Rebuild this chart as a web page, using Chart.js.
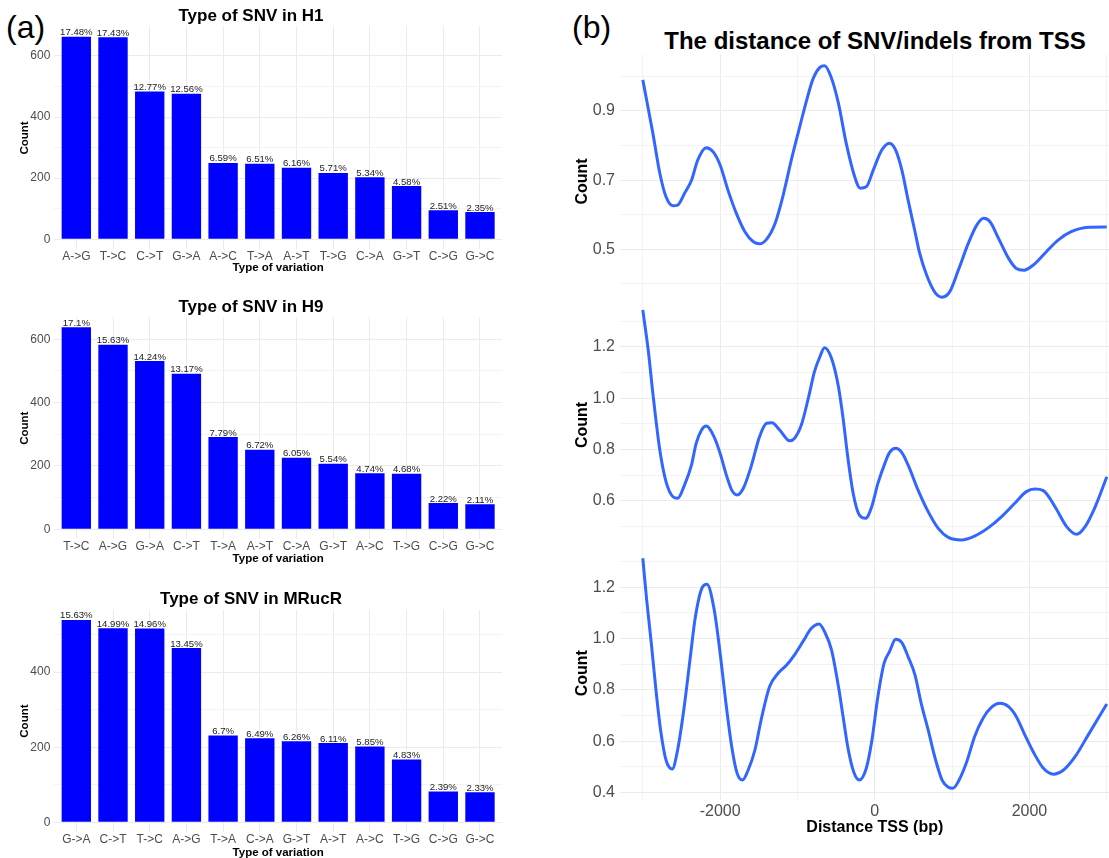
<!DOCTYPE html>
<html>
<head>
<meta charset="utf-8">
<script src="https://cdn.jsdelivr.net/npm/chart.js@4.4.1/dist/chart.umd.min.js"></script>
<style>
  html, body { margin: 0; padding: 0; background: #fff; overflow: hidden; }
  body { width: 1109px; height: 858px; position: relative; font-family: 'Liberation Sans', Arial, sans-serif; }
  canvas { position: absolute; }
  .tag { position: absolute; font-size: 32px; line-height: 1; color: #000; }
  #titleB { position: absolute; left: 620px; width: 510px; top: 29px; text-align: center;
            font-weight: bold; font-size: 24px; line-height: 1; white-space: nowrap; color: #000; }
</style>
</head>
<body>
<div class="tag" style="left:6px; top:11px">(a)</div>
<div class="tag" style="left:572px; top:11px">(b)</div>
<div id="titleB">The distance of SNV/indels from TSS</div>
<canvas id="snvH1"></canvas>
<canvas id="snvH9"></canvas>
<canvas id="snvMRucR"></canvas>
<canvas id="tss1"></canvas>
<canvas id="tss2"></canvas>
<canvas id="tss3"></canvas>
<script>
// Panel (a): counts of each SNV type, with percentage labels
const catsH1 = ["A->G", "T->C", "C->T", "G->A", "A->C", "T->A", "A->T", "T->G", "C->A", "G->T", "C->G", "G->C"];
const countsH1 = [663, 661, 484, 476, 250, 247, 234, 217, 203, 174, 95, 89];
const pctH1 = [17.48, 17.43, 12.77, 12.56, 6.59, 6.51, 6.16, 5.71, 5.34, 4.58, 2.51, 2.35];

const catsH9 = ["T->C", "A->G", "G->A", "C->T", "T->A", "A->T", "C->A", "G->T", "A->C", "T->G", "C->G", "G->C"];
const countsH9 = [638, 583, 531, 491, 291, 251, 226, 207, 177, 175, 83, 79];
const pctH9 = [17.1, 15.63, 14.24, 13.17, 7.79, 6.72, 6.05, 5.54, 4.74, 4.68, 2.22, 2.11];

const catsMRucR = ["G->A", "C->T", "T->C", "A->G", "T->A", "C->A", "G->T", "A->T", "A->C", "T->G", "C->G", "G->C"];
const countsMRucR = [539, 517, 516, 464, 231, 224, 216, 211, 202, 167, 82, 80];
const pctMRucR = [15.63, 14.99, 14.96, 13.45, 6.7, 6.49, 6.26, 6.11, 5.85, 4.83, 2.39, 2.33];

// Panel (b): smoothed counts vs distance from TSS (bp)
const tssX1 = [-3000, -2870, -2780, -2700, -2610, -2550, -2460, -2370, -2290, -2180, -2090, -2000, -1900, -1790, -1680,
  -1570, -1490, -1400, -1290, -1190, -1080, -970, -880, -800, -710, -650, -570, -470, -370, -260, -190, -110, -20,
  90, 190, 270, 350, 430, 520, 580, 670, 780, 870, 970, 1080, 1210, 1320, 1410, 1490, 1600, 1730, 1830, 1930,
  2050, 2200, 2370, 2540, 2760, 3000];
const tssY1 = [0.990, 0.836, 0.720, 0.652, 0.626, 0.628, 0.662, 0.700, 0.758, 0.794, 0.782, 0.744, 0.672, 0.604, 0.551,
  0.522, 0.516, 0.529, 0.575, 0.652, 0.758, 0.855, 0.932, 0.992, 1.026, 1.031, 1.001, 0.922, 0.807, 0.710, 0.677, 0.681, 0.729,
  0.787, 0.807, 0.787, 0.729, 0.643, 0.551, 0.489, 0.426, 0.375, 0.362, 0.378, 0.440, 0.518, 0.571, 0.590, 0.580, 0.532, 0.474, 0.445, 0.440,
  0.455, 0.489, 0.527, 0.551, 0.564, 0.565];

const tssX2 = [-3000, -2930, -2870, -2780, -2700, -2610, -2550, -2460, -2370, -2310, -2240, -2180, -2080, -2000, -1920,
  -1850, -1780, -1700, -1600, -1490, -1400, -1330, -1230, -1100, -1040, -950, -860, -780, -710, -650, -560, -470,
  -410, -350, -280, -200, -120, -40, 40, 130, 190, 270, 350, 430, 560, 690, 820, 950, 1120, 1290, 1470, 1640,
  1810, 1960, 2070, 2180, 2330, 2480, 2610, 2720, 2850, 3000];
const tssY2 = [1.343, 1.187, 1.019, 0.798, 0.675, 0.616, 0.610, 0.662, 0.740, 0.824, 0.876, 0.891, 0.850, 0.785, 0.701,
  0.642, 0.623, 0.649, 0.733, 0.850, 0.902, 0.904, 0.876, 0.834, 0.843, 0.895, 0.999, 1.103, 1.161, 1.196, 1.155, 1.044,
  0.921, 0.772, 0.630, 0.545, 0.532, 0.577, 0.668, 0.746, 0.788, 0.805, 0.788, 0.740, 0.642, 0.558, 0.493, 0.458, 0.448, 0.463, 0.496, 0.539,
  0.591, 0.636, 0.646, 0.640, 0.577, 0.500, 0.470, 0.500, 0.577, 0.694];

const tssX3 = [-3000, -2950, -2890, -2830, -2770, -2700, -2620, -2550, -2470, -2390, -2320, -2230, -2170, -2080, -2000,
  -1930, -1850, -1780, -1710, -1640, -1550, -1470, -1360, -1250, -1140, -1040, -930, -820, -720, -650, -560, -470,
  -410, -350, -270, -200, -110, -40, 40, 120, 190, 270, 350, 430, 520, 600, 690, 780, 870, 950, 1010, 1080, 1190,
  1290, 1400, 1510, 1620, 1730, 1830, 1940, 2070, 2180, 2310, 2440, 2590, 2760, 3000];
const tssY3 = [1.313, 1.151, 0.982, 0.800, 0.644, 0.527, 0.492, 0.566, 0.722, 0.917, 1.085, 1.200, 1.212, 1.118, 0.943,
  0.761, 0.579, 0.475, 0.449, 0.486, 0.566, 0.683, 0.813, 0.865, 0.897, 0.936, 0.988, 1.040, 1.057, 1.027, 0.956, 0.813,
  0.696, 0.579, 0.478, 0.449, 0.495, 0.599, 0.774, 0.904, 0.949, 0.997, 0.984, 0.930, 0.858, 0.748, 0.644, 0.534, 0.449, 0.421, 0.417, 0.443, 0.521,
  0.618, 0.690, 0.733, 0.748, 0.735, 0.696, 0.625, 0.547, 0.495, 0.472, 0.488, 0.540, 0.625, 0.745];

const tssTicks = [-3000, -2000, -1000, 0, 1000, 2000, 3000];
const tssTickLabels = [-2000, 0, 2000];
const countLabels1 = [0.5, 0.7, 0.9];
const countLabels2 = [0.6, 0.8, 1.0, 1.2];
const countLabels3 = [0.4, 0.6, 0.8, 1.0, 1.2];

const FONT = "'Liberation Sans', Arial, sans-serif";
const GRID_MAJOR = "#ebebeb";
const GRID_MINOR = "#f3f3f3";
Chart.defaults.font.family = FONT;
Chart.defaults.animation = false;

function place(id, left, top, width, height) {
  const c = document.getElementById(id);
  c.width = width;
  c.height = height;
  c.style.left = left + "px";
  c.style.top = top + "px";
  return c;
}

// writes the percentage above each bar
Chart.register({
  id: "pctLabels",
  afterDatasetsDraw(chart, args, opts) {
    if (!opts.values) return;
    const ctx = chart.ctx;
    ctx.save();
    ctx.font = "9.6px " + FONT;
    ctx.fillStyle = "#222";
    ctx.textAlign = "center";
    ctx.textBaseline = "alphabetic";
    chart.getDatasetMeta(0).data.forEach((bar, i) => {
      ctx.fillText(opts.values[i] + "%", bar.x, bar.y - 1.5);
    });
    ctx.restore();
  }
});

function snvChart(id, title, cats, counts, pcts, top, areaTop, areaBottom, xTitleY) {
  const width = 556, areaLeft = 54.3, areaRight = 502;
  const height = Math.ceil(xTitleY + 6.9 - top);
  place(id, 0, top, width, height);
  const peak = Math.max(...counts);
  const yMax = peak * 1.05, yMin = -peak * 0.05;
  const gridVals = [];
  for (let v = 0; v <= yMax; v += 100) gridVals.push(v);

  new Chart(id, {
    type: "bar",
    data: {
      datasets: [{
        data: counts.map((v, i) => ({ x: i + 1, y: v })),
        backgroundColor: "#0000ff",
        categoryPercentage: 1,
        barPercentage: 0.8
      }]
    },
    options: {
      responsive: false,
      layout: { padding: { left: 0, right: width - areaRight, top: 0, bottom: 0 } },
      plugins: {
        legend: { display: false },
        tooltip: { enabled: false },
        title: {
          display: true, text: title, color: "#000",
          font: { size: 17, weight: "bold", lineHeight: 1.2 },
          padding: { top: areaTop - top - 20.4, bottom: 0 }
        },
        pctLabels: { values: pcts }
      },
      scales: {
        x: {
          type: "linear", min: 0.4, max: cats.length + 0.6, offset: false,
          afterBuildTicks: (s) => { s.ticks = cats.map((c, i) => ({ value: i + 1 })); },
          afterFit: (s) => { s.height = height - (areaBottom - top); },
          ticks: { callback: (v) => cats[v - 1], autoSkip: false, maxRotation: 0, padding: 0, color: "#4d4d4d", font: { size: 12 } },
          grid: { color: GRID_MAJOR, drawTicks: false, offset: false },
          border: { display: false },
          title: { display: true, text: "Type of variation", color: "#000", font: { size: 11.5, weight: "bold" }, padding: { top: 0, bottom: 0 } }
        },
        y: {
          min: yMin, max: yMax,
          afterBuildTicks: (s) => { s.ticks = gridVals.map((v) => ({ value: v })); },
          afterFit: (s) => { s.width = areaLeft; },
          ticks: { callback: (v) => (v % 200 === 0 ? v : ""), autoSkip: false, padding: 4, color: "#4d4d4d", font: { size: 12 } },
          grid: { color: (c) => (c.tick && c.tick.value % 200 === 0 ? GRID_MAJOR : GRID_MINOR), drawTicks: false },
          border: { display: false },
          title: { display: true, text: "Count", color: "#000", font: { size: 11.5, weight: "bold" }, padding: { top: 18.1, bottom: 0 } }
        }
      }
    }
  });
}

function tssChart(id, xs, ys, labels, yMin, yMax, areaTop, areaBottom, showX) {
  const left = 560, width = 570;
  const top = Math.floor(areaTop - 16);
  const xH = showX ? 37.6 : 0;
  const height = Math.ceil(areaBottom - top + xH + (showX ? 1 : 16));
  const padBottom = height - (areaBottom - top) - xH;
  place(id, left, top, width, height);
  const gridVals = [];
  for (let k = Math.ceil(yMin * 10); k <= Math.floor(yMax * 10); k++) gridVals.push(k / 10);
  const isLabel = (v) => labels.some((l) => Math.abs(l - v) < 1e-6);

  new Chart(id, {
    type: "line",
    data: {
      datasets: [{
        data: xs.map((x, i) => ({ x: x, y: ys[i] })),
        borderColor: "#3366ff",
        borderWidth: 3,
        pointRadius: 0,
        fill: false,
        cubicInterpolationMode: "monotone"
      }]
    },
    options: {
      responsive: false,
      layout: { padding: { left: 0, right: 0, top: areaTop - top, bottom: padBottom } },
      plugins: { legend: { display: false }, tooltip: { enabled: false } },
      scales: {
        x: {
          type: "linear", min: -3300, max: 3300,
          afterBuildTicks: (s) => { s.ticks = tssTicks.map((v) => ({ value: v })); },
          afterFit: (s) => { s.height = xH; },
          ticks: {
            display: showX, autoSkip: false, maxRotation: 0, padding: 2, color: "#4d4d4d", font: { size: 16 },
            callback: (v) => (tssTickLabels.includes(v) ? String(v) : "")
          },
          grid: { color: (c) => (c.tick && tssTickLabels.includes(c.tick.value) ? GRID_MAJOR : GRID_MINOR), drawTicks: false },
          border: { display: false },
          title: { display: showX, text: "Distance TSS (bp)", color: "#000", font: { size: 16, weight: "bold" }, padding: { top: 0, bottom: 0 } }
        },
        y: {
          min: yMin, max: yMax,
          afterBuildTicks: (s) => { s.ticks = gridVals.map((v) => ({ value: v })); },
          afterFit: (s) => { s.width = 59.6; },
          ticks: { callback: (v) => (isLabel(v) ? v.toFixed(1) : ""), autoSkip: false, padding: 4.6, color: "#4d4d4d", font: { size: 16 } },
          grid: { color: (c) => (c.tick && isLabel(c.tick.value) ? GRID_MAJOR : GRID_MINOR), drawTicks: false },
          border: { display: false },
          title: { display: true, text: "Count", color: "#000", font: { size: 16, weight: "bold" }, padding: { top: 13.2, bottom: 0 } }
        }
      }
    }
  });
}

snvChart("snvH1", "Type of SNV in H1", catsH1, countsH1, pctH1, 0, 26.6, 249.4, 268);
snvChart("snvH9", "Type of SNV in H9", catsH9, countsH9, pctH9, 290, 317.1, 539.4, 559);
snvChart("snvMRucR", "Type of SNV in MRucR", catsMRucR, countsMRucR, pctMRucR, 580, 609.8, 832.4, 852.3);

tssChart("tss1", tssX1, tssY1, countLabels1, 0.328, 1.065, 53.9, 308.9, false);
tssChart("tss2", tssX2, tssY2, countLabels2, 0.403, 1.388, 298.4, 551.5, false);
tssChart("tss3", tssX3, tssY3, countLabels3, 0.372, 1.358, 546.7, 799.8, true);
</script>
</body>
</html>
